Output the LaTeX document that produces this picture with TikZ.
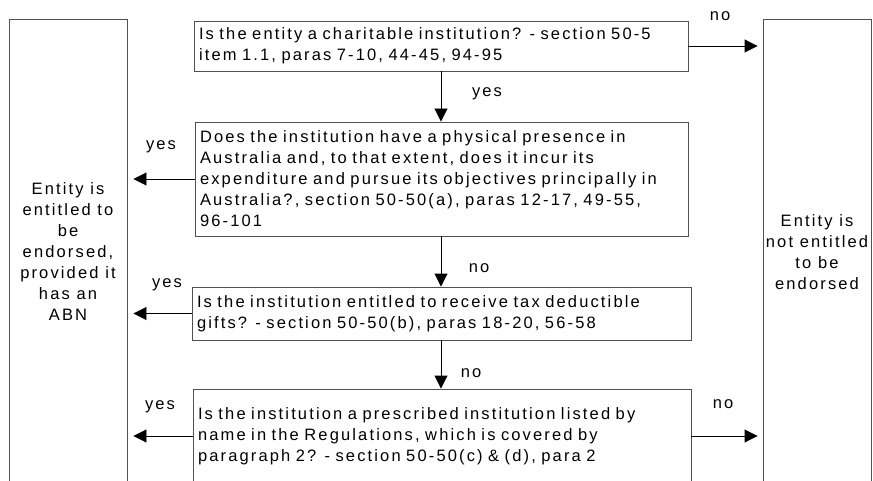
\documentclass[tikz,border=0pt]{standalone}
\usepackage{fontspec}
\setmainfont{Liberation Sans}[LetterSpace=13]
\usetikzlibrary{arrows.meta,positioning}
\definecolor{boxgray}{HTML}{505050}

\begin{document}
\begin{tikzpicture}[x=1pt,y=-1pt]
    \tikzstyle{every node}+=[inner sep=0pt, font=\fontsize{16.5}{21}\selectfont]
    \tikzstyle{qbox}=[draw=boxgray, line width=0.9pt, align=left, inner xsep=5pt]
    \tikzstyle{endbox}=[draw=boxgray, line width=0.9pt, align=center]
    \tikzstyle{flow}=[black, line width=0.9pt, -{Triangle[length=13pt,width=13pt]}]
    \tikzstyle{lbl}=[black]
    \useasboundingbox (0,0) rectangle (873,481);
    \clip (0,0) rectangle (873,481);
    % outcome boxes
    \node[endbox, minimum width=118pt, minimum height=466pt] (abn) at (68,252)
        {Entity is\\ entitled to\\ be\\ endorsed,\\ provided it\\ has an\\ ABN};
    \node[endbox, minimum width=108pt, minimum height=466pt] (notent) at (817,252)
        {Entity is\\ not entitled\\ to be\\ endorsed};
    % questions
    \node[qbox, text width=484pt, minimum height=50pt] (charity) at (441,46)
        {Is the entity a charitable institution? - section 50-5\\ item 1.1, paras 7-10, 44-45, 94-95};
    \node[qbox, text width=483pt, minimum height=114pt] (presence) at (441.5,179)
        {Does the institution have a physical presence in\\ Australia and, to that extent, does it incur its\\ expenditure and pursue its objectives principally in\\ Australia?, section 50-50(a), paras 12-17, 49-55,\\ 96-101};
    \node[qbox, text width=489pt, minimum height=53pt] (gifts) at (441.5,313.5)
        {Is the institution entitled to receive tax deductible\\ gifts? - section 50-50(b), paras 18-20, 56-58};
    \node[qbox, text width=488pt, minimum height=94pt] (prescribed) at (442,436)
        {Is the institution a prescribed institution listed by\\ name in the Regulations, which is covered by\\ paragraph 2? - section 50-50(c) \& (d), para 2};
    % yes / no arrows
    \draw[flow] (charity.south -| 441,0) -- node[lbl, xshift=46pt, yshift=2.5pt] (c-yes) {yes} (presence.north -| 441,0);
    \draw[flow] (presence.south -| 441,0) -- node[lbl, xshift=38pt, yshift=-6.5pt] (p-no) {no} (gifts.north -| 441,0);
    \draw[flow] (gifts.south -| 441,0) -- node[lbl, xshift=30pt, yshift=-8.5pt] (g-no) {no} (prescribed.north -| 441,0);
    \draw[flow, shorten >=5pt] (charity.east) -- node[lbl, xshift=-5.5pt, yshift=30pt] (c-no) {no} (charity.east -| notent.west);
    \draw[flow, shorten >=6pt] (presence.west) -- node[lbl, yshift=32pt] (p-yes) {yes} (presence.west -| abn.east);
    \draw[flow, shorten >=6pt] (gifts.west) -- node[lbl, xshift=7.5pt, yshift=29pt] (g-yes) {yes} (gifts.west -| abn.east);
    \draw[flow, shorten >=6pt] (prescribed.west) -- node[lbl, yshift=29pt] (r-yes) {yes} (prescribed.west -| abn.east);
    \draw[flow, shorten >=5pt] (prescribed.east) -- node[lbl, xshift=-4pt, yshift=32pt] (r-no) {no} (prescribed.east -| notent.west);
\end{tikzpicture}
\end{document}
